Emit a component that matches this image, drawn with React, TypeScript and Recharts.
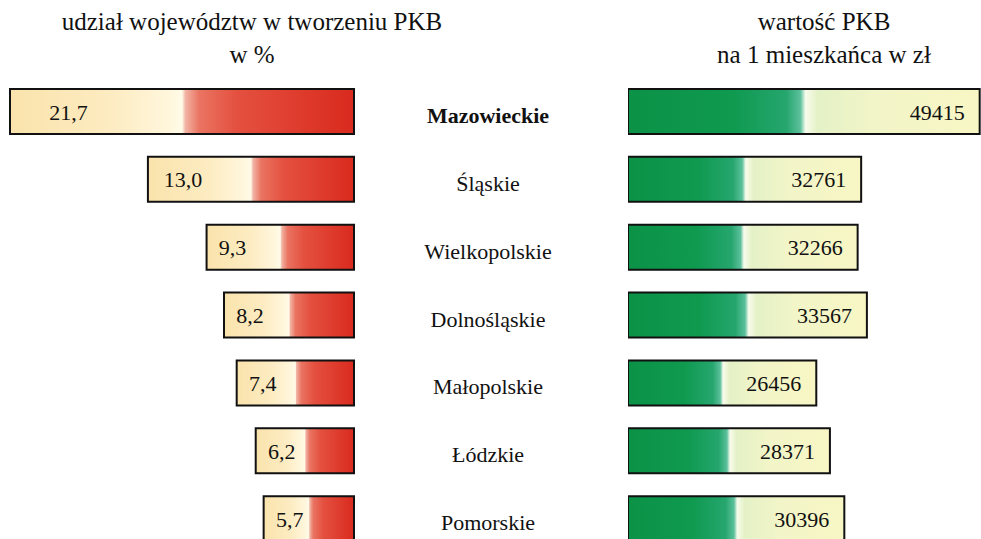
import React from 'react';
import { BarChart, Bar, XAxis, YAxis, LabelList } from 'recharts';

const regions = ['Mazowieckie', 'Śląskie', 'Wielkopolskie', 'Dolnośląskie', 'Małopolskie', 'Łódzkie', 'Pomorskie'];
const shareValues = [21.7, 13.0, 9.3, 8.2, 7.4, 6.2, 5.7];
const shareLabels = ['21,7', '13,0', '9,3', '8,2', '7,4', '6,2', '5,7'];
const gdpPerCapita = [49415, 32761, 32266, 33567, 26456, 28371, 30396];

const leftTitle = ['udział województw w tworzeniu PKB', 'w %'];
const rightTitle = ['wartość PKB', 'na 1 mieszkańca w zł'];

const data = regions.map((region, i) => ({
  region,
  share: shareValues[i],
  shareLabel: shareLabels[i],
  gdp: gdpPerCapita[i],
}));

const FONT = "'Liberation Serif', 'Times New Roman', serif";

const CenterTick = (props: any) => {
  const { x, y, payload, index } = props;
  return (
    <text
      x={x + 134}
      y={y + 11}
      textAnchor="middle"
      style={{ fontFamily: FONT }}
      fontSize={22}
      fontWeight={index === 0 ? 'bold' : 'normal'}
      fill="#111"
    >
      {payload.value}
    </text>
  );
};

const LeftLabel = (props: any) => {
  const { x, y, width, height, value } = props;
  const left = Math.min(x, x + width);
  const w = Math.abs(width);
  const cx = Math.max(left + 0.17 * w, left + 26);
  return (
    <text x={cx} y={y + height / 2 + 8} textAnchor="middle" style={{ fontFamily: FONT }} fontSize={22} fill="#111">
      {value}
    </text>
  );
};

const RightLabel = (props: any) => {
  const { x, y, width, height, value } = props;
  const right = Math.max(x, x + width);
  return (
    <text x={right - 15} y={y + height / 2 + 8} textAnchor="end" style={{ fontFamily: FONT }} fontSize={22} fill="#111">
      {value}
    </text>
  );
};

const titleStyle: React.CSSProperties = {
  position: 'absolute',
  top: 5,
  fontFamily: FONT,
  fontSize: 25,
  lineHeight: '33px',
  textAlign: 'center',
  color: '#111',
  whiteSpace: 'nowrap',
};

export default function App() {
  return (
    <div style={{ position: 'absolute', left: 0, top: 0, width: 981, height: 539, overflow: 'hidden', background: '#fff' }}>
      <svg width={0} height={0} style={{ position: 'absolute' }}>
        <defs>
          <linearGradient id="redGrad" x1="0" y1="0" x2="1" y2="0">
            <stop offset="0" stopColor="#fae3ac" />
            <stop offset="0.3" stopColor="#fdecc2" />
            <stop offset="0.46" stopColor="#fff6dc" />
            <stop offset="0.5" stopColor="#fffbe8" />
            <stop offset="0.51" stopColor="#f2b4a4" />
            <stop offset="0.55" stopColor="#ea7462" />
            <stop offset="0.66" stopColor="#e4503f" />
            <stop offset="1" stopColor="#d92a1e" />
          </linearGradient>
          <linearGradient id="greenGrad" x1="0" y1="0" x2="1" y2="0">
            <stop offset="0" stopColor="#0b9247" />
            <stop offset="0.3" stopColor="#0f9a50" />
            <stop offset="0.45" stopColor="#26a66e" />
            <stop offset="0.49" stopColor="#5cc09c" />
            <stop offset="0.505" stopColor="#f8fcec" />
            <stop offset="0.54" stopColor="#e4f1c6" />
            <stop offset="0.7" stopColor="#f2f5c8" />
            <stop offset="1" stopColor="#f8f6c4" />
          </linearGradient>
        </defs>
      </svg>

      <div style={{ ...titleStyle, left: 52, width: 400 }}>
        {leftTitle[0]}
        <br />
        {leftTitle[1]}
      </div>
      <div style={{ ...titleStyle, left: 624, width: 400 }}>
        {rightTitle[0]}
        <br />
        {rightTitle[1]}
      </div>

      <div style={{ position: 'absolute', left: 0, top: 0 }}>
        <BarChart
          width={628}
          height={560}
          layout="vertical"
          data={data}
          margin={{ top: 78, right: 0, left: 10, bottom: 7 }}
          barCategoryGap={0}
        >
          <XAxis type="number" domain={[0, 21.7]} reversed hide />
          <YAxis
            type="category"
            dataKey="region"
            orientation="right"
            width={274}
            axisLine={false}
            tickLine={false}
            tickSize={0}
            tickMargin={0}
            interval={0}
            tick={<CenterTick />}
          />
          <Bar dataKey="share" fill="url(#redGrad)" stroke="#111" strokeWidth={2} barSize={45} isAnimationActive={false}>
            <LabelList dataKey="shareLabel" content={<LeftLabel />} />
          </Bar>
        </BarChart>
      </div>

      <div style={{ position: 'absolute', left: 628, top: 0 }}>
        <BarChart
          width={353}
          height={560}
          layout="vertical"
          data={data}
          margin={{ top: 78, right: 0, left: 0, bottom: 7 }}
          barCategoryGap={0}
        >
          <XAxis type="number" domain={[0, 49600]} hide />
          <YAxis type="category" dataKey="region" hide />
          <Bar dataKey="gdp" fill="url(#greenGrad)" stroke="#111" strokeWidth={2} barSize={45} isAnimationActive={false}>
            <LabelList dataKey="gdp" content={<RightLabel />} />
          </Bar>
        </BarChart>
      </div>
    </div>
  );
}
